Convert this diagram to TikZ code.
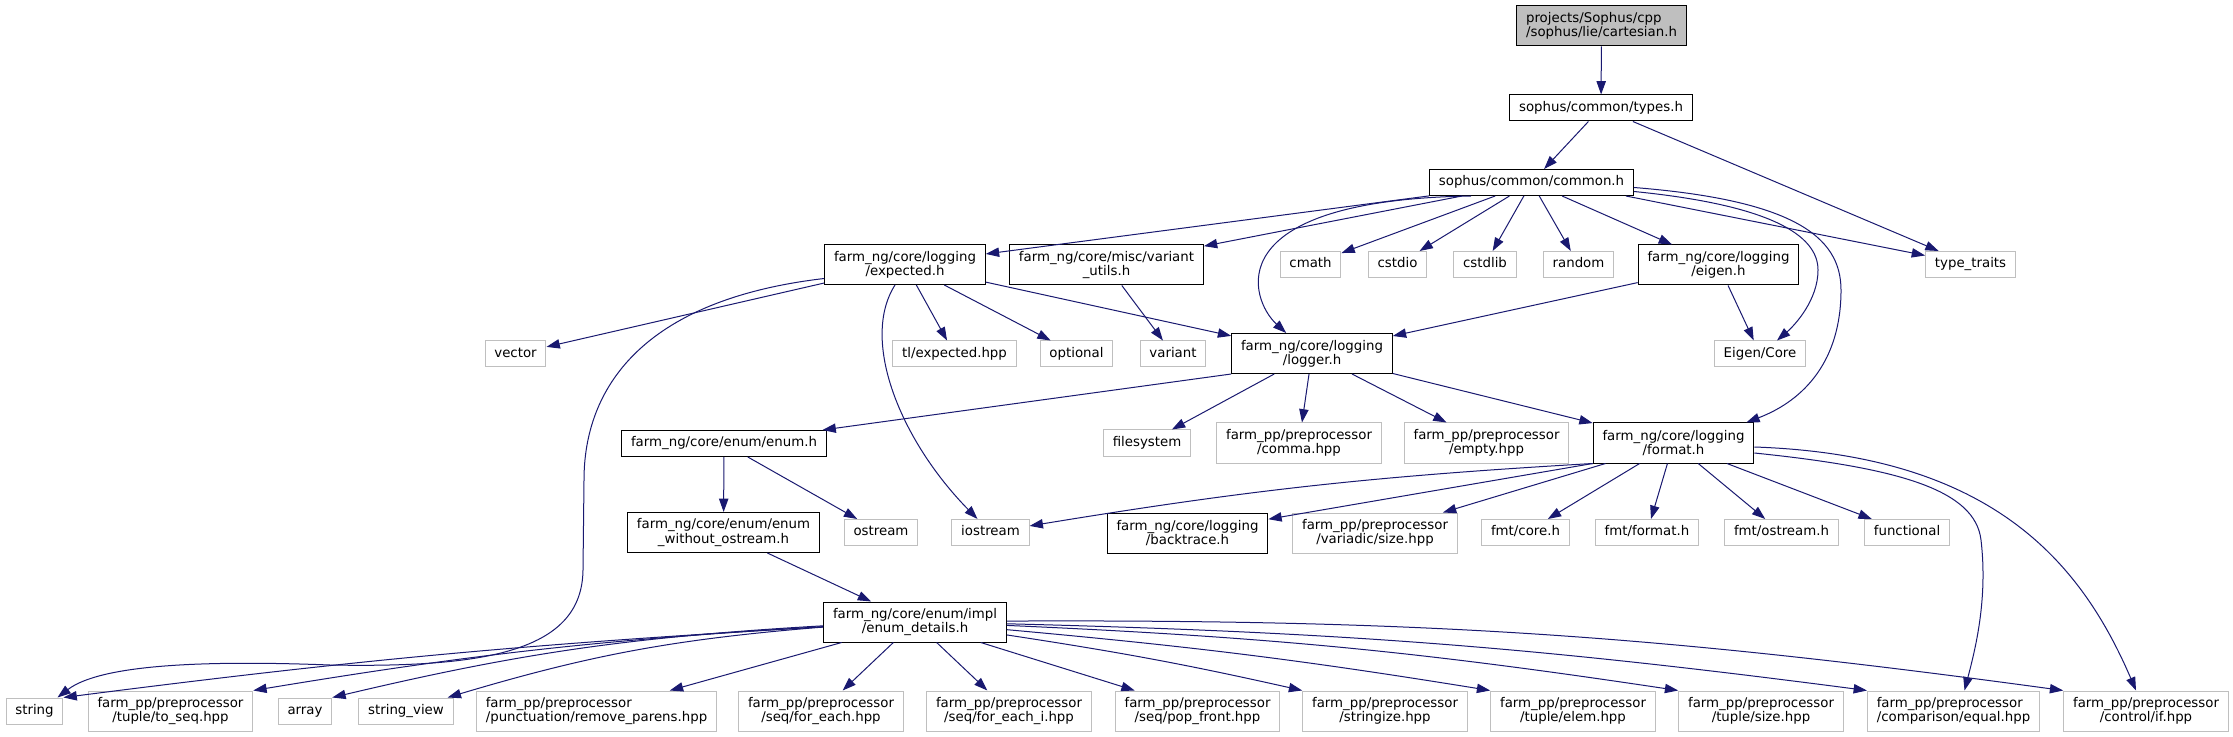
\documentclass[tikz,border=0pt]{standalone}
\usepackage{fontspec}
\setmainfont{DejaVu Sans}
\usetikzlibrary{arrows.meta,calc}
\definecolor{depblue}{HTML}{191970}
\definecolor{extgrey}{HTML}{BFBFBF}

\begin{document}
\begin{tikzpicture}[x=0.75pt,y=-0.75pt,line width=0.75pt,>={Triangle[length=10pt,width=7pt]},
  every node/.style={font=\fontsize{10pt}{10.75pt}\selectfont,inner xsep=7pt,inner ysep=0pt,align=center},
  inc/.style={draw=black,fill=white},
  ext/.style={draw=extgrey,fill=white},
  one/.style={minimum height=19.5pt,text height=7.6pt,text depth=2.4pt},
  two/.style={minimum height=30pt},
  dep/.style={->,draw=depblue,line width=0.75pt}]
  \useasboundingbox (0,0) rectangle (2233,737);
  \fill[white] (0,0) rectangle (2233,737);
  % fichero raiz y cabeceras de sophus
  \node[inc,two,fill=extgrey,align=left] (root) at (1601.5,26) {projects/Sophus/cpp\\/sophus/lie/cartesian.h};
  \node[inc,one] (types) at (1601,108) {sophus/common/types.h};
  \node[inc,one] (common) at (1531.5,182.5) {sophus/common/common.h};
  % primer nivel
  \node[inc,two] (expected) at (905,264.5) {farm\_ng/core/logging\\/expected.h};
  \node[inc,two] (varutils) at (1106.5,265) {farm\_ng/core/misc/variant\\\_utils.h};
  \node[ext,one] (cmath) at (1310.5,264.5) {cmath};
  \node[ext,one] (cstdio) at (1397.5,264.5) {cstdio};
  \node[ext,one] (cstdlib) at (1485,264.5) {cstdlib};
  \node[ext,one] (random) at (1578.5,264.5) {random};
  \node[inc,two] (eigen) at (1718.5,265) {farm\_ng/core/logging\\/eigen.h};
  \node[ext,one] (typetraits) at (1970.5,264.5) {type\_traits};
  % segundo nivel
  \node[ext,one] (vector) at (515.5,354) {vector};
  \node[ext,one] (tlexpected) at (954.5,354) {tl/expected.hpp};
  \node[ext,one] (optional) at (1076.5,354) {optional};
  \node[ext,one] (variant) at (1173,354) {variant};
  \node[inc,two] (logger) at (1312,353.5) {farm\_ng/core/logging\\/logger.h};
  \node[ext,one] (eigencore) at (1760,354) {Eigen/Core};
  % tercer nivel
  \node[inc,one] (enum) at (724,443.5) {farm\_ng/core/enum/enum.h};
  \node[ext,one] (filesystem) at (1147,443) {filesystem};
  \node[ext,two] (comma) at (1299,443) {farm\_pp/preprocessor\\/comma.hpp};
  \node[ext,two] (empty) at (1486.5,443) {farm\_pp/preprocessor\\/empty.hpp};
  \node[inc,two] (format) at (1673.5,443) {farm\_ng/core/logging\\/format.h};
  % cuarto nivel
  \node[inc,two] (enumwo) at (723.5,532.5) {farm\_ng/core/enum/enum\\\_without\_ostream.h};
  \node[ext,one] (ostream) at (881,532.5) {ostream};
  \node[ext,one] (iostream) at (990.5,532.5) {iostream};
  \node[inc,two] (backtrace) at (1187.5,533) {farm\_ng/core/logging\\/backtrace.h};
  \node[ext,two] (variadic) at (1375,533) {farm\_pp/preprocessor\\/variadic/size.hpp};
  \node[ext,one] (fmtcore) at (1525.5,532.5) {fmt/core.h};
  \node[ext,one] (fmtformat) at (1647,532.5) {fmt/format.h};
  \node[ext,one] (fmtostream) at (1781.5,532.5) {fmt/ostream.h};
  \node[ext,one] (functional) at (1907,532.5) {functional};
  % detalles del enum
  \node[inc,two] (details) at (915,622) {farm\_ng/core/enum/impl\\/enum\_details.h};
  % fila inferior
  \node[ext,one] (string) at (34.5,711) {string};
  \node[ext,two] (toseq) at (170.5,711) {farm\_pp/preprocessor\\/tuple/to\_seq.hpp};
  \node[ext,one] (array) at (305,711) {array};
  \node[ext,one] (stringview) at (406,711) {string\_view};
  \node[ext,two,align=left] (removeparens) at (596.5,711) {farm\_pp/preprocessor\\/punctuation/remove\_parens.hpp};
  \node[ext,two] (foreach) at (821,711) {farm\_pp/preprocessor\\/seq/for\_each.hpp};
  \node[ext,two] (foreachi) at (1009,711) {farm\_pp/preprocessor\\/seq/for\_each\_i.hpp};
  \node[ext,two] (popfront) at (1197.5,711) {farm\_pp/preprocessor\\/seq/pop\_front.hpp};
  \node[ext,two] (stringize) at (1385,711) {farm\_pp/preprocessor\\/stringize.hpp};
  \node[ext,two] (tupleelem) at (1573,711) {farm\_pp/preprocessor\\/tuple/elem.hpp};
  \node[ext,two] (tuplesize) at (1761,711) {farm\_pp/preprocessor\\/tuple/size.hpp};
  \node[ext,two,align=left] (equal) at (1953.5,711) {farm\_pp/preprocessor\\/comparison/equal.hpp};
  \node[ext,two] (controlif) at (2146,711) {farm\_pp/preprocessor\\/control/if.hpp};

  % dependencias de sophus
  \draw[dep] (root) -- (types); \draw[dep] (types) -- (common); \draw[dep] (types) -- (typetraits);
  \draw[dep] (common) -- (expected); \draw[dep] (common) -- (varutils);
  \draw[dep] (common) -- (cmath); \draw[dep] (common) -- (cstdio);
  \draw[dep] (common) -- (cstdlib); \draw[dep] (common) -- (random);
  \draw[dep] (common) -- (eigen); \draw[dep] ($(common.south east)+(-8,0)$) -- (typetraits);
  \draw[dep] ($(common.south west)+(42,0)$) .. controls (1215,200) and (1250,300) .. ($(logger.north west)+(55,0)$);
  \draw[dep] ($(common.east)+(0,9)$) .. controls (1770,205) and (1818,235) .. (1818,270) .. controls (1818,300) and (1795,325) .. ($(eigencore.north)+(17,0)$);
  \draw[dep] ($(common.east)+(0,5)$) .. controls (1790,200) and (1841,235) .. (1841,290) .. controls (1841,360) and (1805,400) .. ($(format.north east)+(-8,0)$);
  % expected.h
  \draw[dep] (expected) -- (vector); \draw[dep] (expected) -- (tlexpected);
  \draw[dep] (expected) -- (optional); \draw[dep] (expected) -- (logger);
  \draw[dep] ($(expected.west)+(0,14)$) .. controls (640,300) and (584,390) .. (584,480) -- (583,570) .. controls (582,650) and (490,668) .. (330,665) .. controls (200,660) and (100,665) .. ($(string.north east)+(-6,0)$);
  \draw[dep] ($(expected.south)+(-10,0)$) .. controls (860,340) and (900,440) .. ($(iostream.north)+(-13,0)$);
  \draw[dep] (varutils) -- (variant);
  \draw[dep] (eigen) -- (logger); \draw[dep] (eigen) -- (eigencore);
  % logger.h
  \draw[dep] (logger.south west) -- (enum); \draw[dep] (logger) -- (filesystem);
  \draw[dep] (logger) -- (comma); \draw[dep] (logger) -- (empty); \draw[dep] (logger) -- (format);
  \draw[dep] (enum) -- (enumwo); \draw[dep] (enum) -- (ostream); \draw[dep] (enumwo) -- (details);
  % format.h
  \draw[dep] (format.south west) to[bend right=3] (iostream); \draw[dep] (format.south west) -- (backtrace);
  \draw[dep] (format) -- (variadic); \draw[dep] (format) -- (fmtcore); \draw[dep] (format) -- (fmtformat);
  \draw[dep] (format) -- (fmtostream); \draw[dep] (format) -- (functional);
  \draw[dep] ($(format.east)+(0,10)$) .. controls (1900,468) and (1975,490) .. (1981,540) .. controls (1988,600) and (1975,650) .. ($(equal.north)+(11,0)$);
  \draw[dep] ($(format.east)+(0,4)$) .. controls (1990,455) and (2080,560) .. ($(controlif.north)+(-10,0)$);
  % enum_details.h
  \draw[dep] (details) to[bend right=2] (string.north east); \draw[dep] (details) to[bend right=3] (toseq.north east);
  \draw[dep] (details) to[bend right=5] (array.north east); \draw[dep] (details) to[bend right=6] ($(stringview.north east)+(-6,0)$);
  \draw[dep] (details) -- (removeparens); \draw[dep] (details) -- (foreach); \draw[dep] (details) -- (foreachi);
  \draw[dep] (details) -- ($(popfront.north west)+(20,0)$);
  \draw[dep] (details) to[bend left=2] (stringize.north west); \draw[dep] (details) to[bend left=2] (tupleelem.north west);
  \draw[dep] (details) to[bend left=3] (tuplesize.north west); \draw[dep] (details) to[bend left=3] (equal.north west);
  \draw[dep] (details) to[bend left=4] (controlif.north west);
\end{tikzpicture}
\end{document}
